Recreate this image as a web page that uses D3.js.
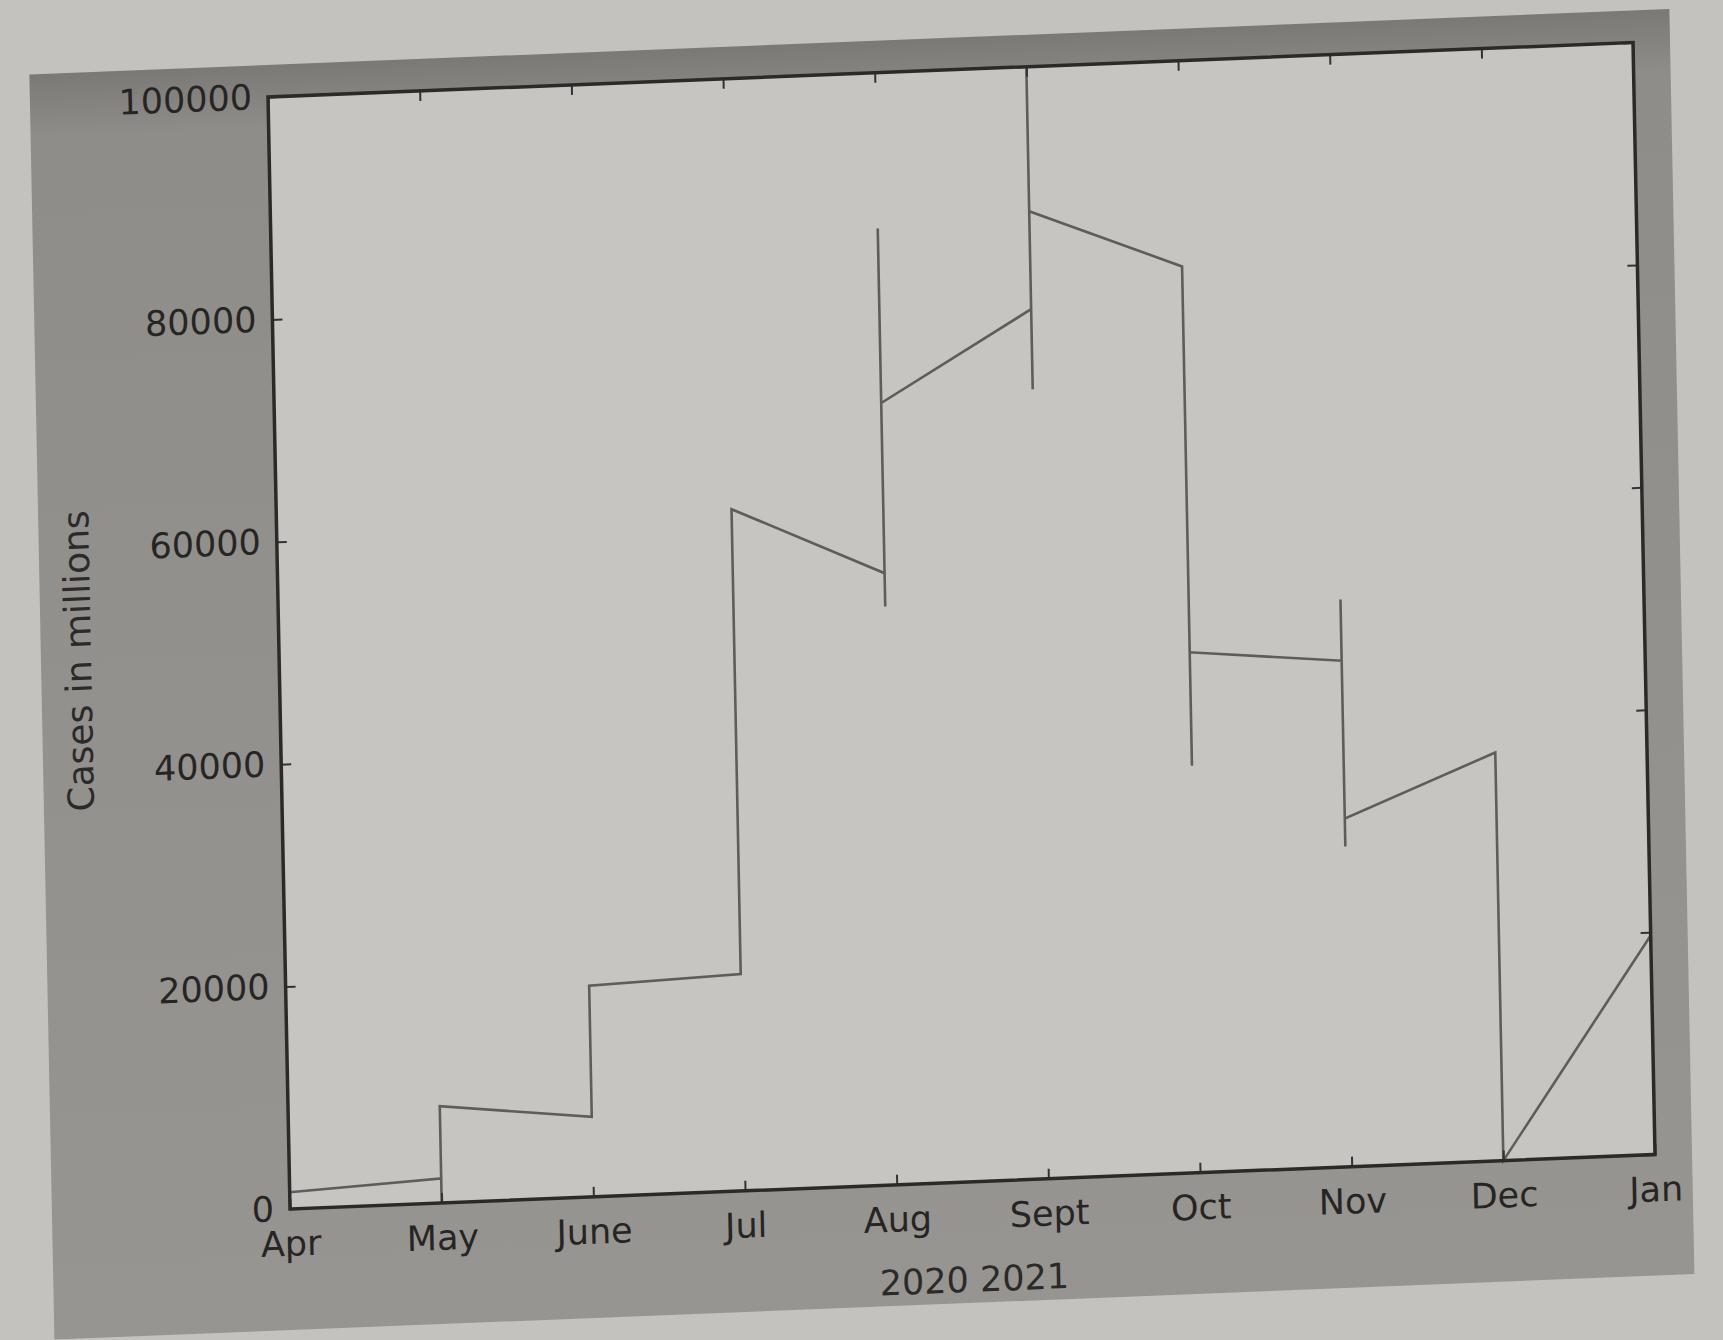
<!DOCTYPE html>
<html>
<head>
<meta charset="utf-8">
<script src="https://cdn.jsdelivr.net/npm/d3@7"></script>
<style>
  html, body { margin: 0; padding: 0; background: #c4c2be; }
  svg { display: block; }
</style>
</head>
<body>
<div id="chart"></div>
<script>
// tick labels and data
const monthLabels = ["Apr", "May", "June", "Jul", "Aug", "Sept", "Oct", "Nov", "Dec", "Jan"];
const yTicks = [0, 20000, 40000, 60000, 80000, 100000];

// the line goes back and forth at each month, so every point has a month index
const pointMonth = [0, 1, 1, 1, 2, 2, 3, 3, 4, 4, 4, 4, 5, 5, 5, 5, 6, 6, 6, 7, 7, 7, 7, 8, 8, 9];
const pointCases = [1500, 2200, 0, 8700, 7200, 19000, 19500, 61300, 55000, 52000, 86000, 70300,
  78200, 71000, 100000, 87000, 81500, 36600, 46800, 45500, 51000, 28800, 31300, 36700, 0, 19700];

const xLabel = "2020 2021";
const yLabel = "Cases in millions";

document.addEventListener("DOMContentLoaded", () => {
  const width = 1723;
  const height = 1340;
  const plotW = 1365;
  const plotH = 1112;

  const svg = d3.select("#chart")
    .append("svg")
    .attr("width", width)
    .attr("height", height);

  // grey shading of the printed figure, darker at the top
  const grad = svg.append("defs").append("linearGradient")
    .attr("id", "figgrad")
    .attr("x1", 0).attr("y1", 0).attr("x2", 0).attr("y2", 1);
  grad.append("stop").attr("offset", "0%").attr("stop-color", "#7b7976");
  grad.append("stop").attr("offset", "5%").attr("stop-color", "#8f8d8a");
  grad.append("stop").attr("offset", "100%").attr("stop-color", "#979592");

  svg.append("rect")
    .attr("width", width)
    .attr("height", height)
    .attr("fill", "#c4c2be");

  // the photo is a bit slanted, so the whole figure gets a small shear
  const fig = svg.append("g")
    .attr("transform", "matrix(1,-0.0399,0.0198,1,268,97)");

  fig.append("rect")
    .attr("x", -238)
    .attr("y", -32)
    .attr("width", 1640)
    .attr("height", 1265)
    .attr("fill", "url(#figgrad)");

  const x = d3.scaleLinear()
    .domain([0, monthLabels.length - 1])
    .range([0, plotW]);

  const y = d3.scaleLinear()
    .domain([0, 100000])
    .range([plotH, 0]);

  fig.append("rect")
    .attr("width", plotW)
    .attr("height", plotH)
    .attr("fill", "#c7c5c1");

  // line
  const points = pointMonth.map((m, i) => [m, pointCases[i]]);
  const line = d3.line()
    .x(d => x(d[0]))
    .y(d => y(d[1]));

  fig.append("path")
    .datum(points)
    .attr("d", line)
    .attr("fill", "none")
    .attr("stroke", "#5e5d5b")
    .attr("stroke-width", 2.6)
    .attr("stroke-linejoin", "miter");

  // axes, ticks pointing inwards like old matplotlib
  const xAxis = d3.axisBottom(x)
    .tickValues(d3.range(monthLabels.length))
    .tickFormat(i => monthLabels[i])
    .tickSizeInner(-10)
    .tickSizeOuter(0)
    .tickPadding(22);

  const yAxis = d3.axisLeft(y)
    .tickValues(yTicks)
    .tickFormat(d3.format("d"))
    .tickSizeInner(-10)
    .tickSizeOuter(0)
    .tickPadding(16);

  const gx = fig.append("g")
    .attr("transform", `translate(0,${plotH})`)
    .call(xAxis);

  const gy = fig.append("g").call(yAxis);

  fig.append("g")
    .call(d3.axisTop(x).tickValues(d3.range(monthLabels.length)).tickSizeInner(-10).tickSizeOuter(0).tickFormat(""));
  fig.append("g")
    .attr("transform", `translate(${plotW},0)`)
    .call(d3.axisRight(y).tickValues(yTicks).tickSizeInner(-10).tickSizeOuter(0).tickFormat(""));

  fig.selectAll(".domain").remove();
  fig.selectAll(".tick line")
    .attr("stroke", "#333")
    .attr("stroke-width", 2);

  [gx, gy].forEach(g => g.selectAll("text")
    .attr("fill", "#262523")
    .style("font-family", "'DejaVu Sans', sans-serif")
    .style("font-size", "35px"));

  gx.selectAll("text").attr("dy", "0.71em");

  // frame of the plot
  fig.append("rect")
    .attr("width", plotW)
    .attr("height", plotH)
    .attr("fill", "none")
    .attr("stroke", "#2b2a28")
    .attr("stroke-width", 3.5);

  // axis titles
  fig.append("text")
    .attr("x", plotW / 2)
    .attr("y", plotH + 110)
    .attr("text-anchor", "middle")
    .attr("fill", "#2b2a28")
    .style("font-family", "'DejaVu Sans', sans-serif")
    .style("font-size", "35px")
    .text(xLabel);

  fig.append("text")
    .attr("transform", `translate(-188,${plotH / 2}) rotate(-90)`)
    .attr("text-anchor", "middle")
    .attr("fill", "#2b2a28")
    .style("font-family", "'DejaVu Sans', sans-serif")
    .style("font-size", "36px")
    .text(yLabel);
});
</script>
</body>
</html>
